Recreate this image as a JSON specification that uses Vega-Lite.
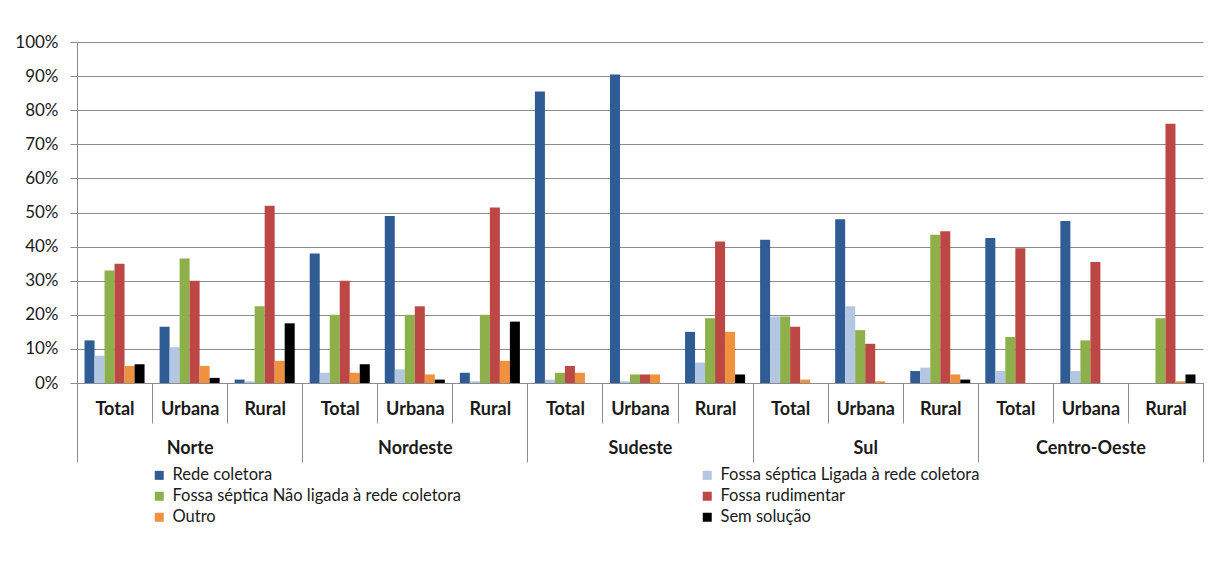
{
  "$schema": "https://vega.github.io/schema/vega-lite/v6.json",
  "autosize": {"type": "none"},
  "width": 1126,
  "height": 341,
  "padding": {"left": 77, "top": 42, "right": 8, "bottom": 189},
  "background": "white",
  "config": {
    "font": "Lato",
    "view": {"stroke": null},
    "axis": {"labelFont": "Lato", "labelColor": "#1a1a1a"}
  },
  "data": {
    "values": [
      {"r": "Norte", "t": "Total", "g": "Norte|Total", "s": "Rede coletora", "v": 12.5},
      {"r": "Norte", "t": "Total", "g": "Norte|Total", "s": "Fossa séptica Ligada à rede coletora", "v": 8},
      {"r": "Norte", "t": "Total", "g": "Norte|Total", "s": "Fossa séptica Não ligada à rede coletora", "v": 33},
      {"r": "Norte", "t": "Total", "g": "Norte|Total", "s": "Fossa rudimentar", "v": 35},
      {"r": "Norte", "t": "Total", "g": "Norte|Total", "s": "Outro", "v": 5},
      {"r": "Norte", "t": "Total", "g": "Norte|Total", "s": "Sem solução", "v": 5.5},
      {"r": "Norte", "t": "Urbana", "g": "Norte|Urbana", "s": "Rede coletora", "v": 16.5},
      {"r": "Norte", "t": "Urbana", "g": "Norte|Urbana", "s": "Fossa séptica Ligada à rede coletora", "v": 10.5},
      {"r": "Norte", "t": "Urbana", "g": "Norte|Urbana", "s": "Fossa séptica Não ligada à rede coletora", "v": 36.5},
      {"r": "Norte", "t": "Urbana", "g": "Norte|Urbana", "s": "Fossa rudimentar", "v": 30},
      {"r": "Norte", "t": "Urbana", "g": "Norte|Urbana", "s": "Outro", "v": 5},
      {"r": "Norte", "t": "Urbana", "g": "Norte|Urbana", "s": "Sem solução", "v": 1.5},
      {"r": "Norte", "t": "Rural", "g": "Norte|Rural", "s": "Rede coletora", "v": 1},
      {"r": "Norte", "t": "Rural", "g": "Norte|Rural", "s": "Fossa séptica Ligada à rede coletora", "v": 0.5},
      {"r": "Norte", "t": "Rural", "g": "Norte|Rural", "s": "Fossa séptica Não ligada à rede coletora", "v": 22.5},
      {"r": "Norte", "t": "Rural", "g": "Norte|Rural", "s": "Fossa rudimentar", "v": 52},
      {"r": "Norte", "t": "Rural", "g": "Norte|Rural", "s": "Outro", "v": 6.5},
      {"r": "Norte", "t": "Rural", "g": "Norte|Rural", "s": "Sem solução", "v": 17.5},
      {"r": "Nordeste", "t": "Total", "g": "Nordeste|Total", "s": "Rede coletora", "v": 38},
      {"r": "Nordeste", "t": "Total", "g": "Nordeste|Total", "s": "Fossa séptica Ligada à rede coletora", "v": 3},
      {"r": "Nordeste", "t": "Total", "g": "Nordeste|Total", "s": "Fossa séptica Não ligada à rede coletora", "v": 20},
      {"r": "Nordeste", "t": "Total", "g": "Nordeste|Total", "s": "Fossa rudimentar", "v": 30},
      {"r": "Nordeste", "t": "Total", "g": "Nordeste|Total", "s": "Outro", "v": 3},
      {"r": "Nordeste", "t": "Total", "g": "Nordeste|Total", "s": "Sem solução", "v": 5.5},
      {"r": "Nordeste", "t": "Urbana", "g": "Nordeste|Urbana", "s": "Rede coletora", "v": 49},
      {"r": "Nordeste", "t": "Urbana", "g": "Nordeste|Urbana", "s": "Fossa séptica Ligada à rede coletora", "v": 4},
      {"r": "Nordeste", "t": "Urbana", "g": "Nordeste|Urbana", "s": "Fossa séptica Não ligada à rede coletora", "v": 20},
      {"r": "Nordeste", "t": "Urbana", "g": "Nordeste|Urbana", "s": "Fossa rudimentar", "v": 22.5},
      {"r": "Nordeste", "t": "Urbana", "g": "Nordeste|Urbana", "s": "Outro", "v": 2.5},
      {"r": "Nordeste", "t": "Urbana", "g": "Nordeste|Urbana", "s": "Sem solução", "v": 1},
      {"r": "Nordeste", "t": "Rural", "g": "Nordeste|Rural", "s": "Rede coletora", "v": 3},
      {"r": "Nordeste", "t": "Rural", "g": "Nordeste|Rural", "s": "Fossa séptica Ligada à rede coletora", "v": 0.5},
      {"r": "Nordeste", "t": "Rural", "g": "Nordeste|Rural", "s": "Fossa séptica Não ligada à rede coletora", "v": 20},
      {"r": "Nordeste", "t": "Rural", "g": "Nordeste|Rural", "s": "Fossa rudimentar", "v": 51.5},
      {"r": "Nordeste", "t": "Rural", "g": "Nordeste|Rural", "s": "Outro", "v": 6.5},
      {"r": "Nordeste", "t": "Rural", "g": "Nordeste|Rural", "s": "Sem solução", "v": 18},
      {"r": "Sudeste", "t": "Total", "g": "Sudeste|Total", "s": "Rede coletora", "v": 85.5},
      {"r": "Sudeste", "t": "Total", "g": "Sudeste|Total", "s": "Fossa séptica Ligada à rede coletora", "v": 1},
      {"r": "Sudeste", "t": "Total", "g": "Sudeste|Total", "s": "Fossa séptica Não ligada à rede coletora", "v": 3},
      {"r": "Sudeste", "t": "Total", "g": "Sudeste|Total", "s": "Fossa rudimentar", "v": 5},
      {"r": "Sudeste", "t": "Total", "g": "Sudeste|Total", "s": "Outro", "v": 3},
      {"r": "Sudeste", "t": "Total", "g": "Sudeste|Total", "s": "Sem solução", "v": 0},
      {"r": "Sudeste", "t": "Urbana", "g": "Sudeste|Urbana", "s": "Rede coletora", "v": 90.5},
      {"r": "Sudeste", "t": "Urbana", "g": "Sudeste|Urbana", "s": "Fossa séptica Ligada à rede coletora", "v": 0.5},
      {"r": "Sudeste", "t": "Urbana", "g": "Sudeste|Urbana", "s": "Fossa séptica Não ligada à rede coletora", "v": 2.5},
      {"r": "Sudeste", "t": "Urbana", "g": "Sudeste|Urbana", "s": "Fossa rudimentar", "v": 2.5},
      {"r": "Sudeste", "t": "Urbana", "g": "Sudeste|Urbana", "s": "Outro", "v": 2.5},
      {"r": "Sudeste", "t": "Urbana", "g": "Sudeste|Urbana", "s": "Sem solução", "v": 0},
      {"r": "Sudeste", "t": "Rural", "g": "Sudeste|Rural", "s": "Rede coletora", "v": 15},
      {"r": "Sudeste", "t": "Rural", "g": "Sudeste|Rural", "s": "Fossa séptica Ligada à rede coletora", "v": 6},
      {"r": "Sudeste", "t": "Rural", "g": "Sudeste|Rural", "s": "Fossa séptica Não ligada à rede coletora", "v": 19},
      {"r": "Sudeste", "t": "Rural", "g": "Sudeste|Rural", "s": "Fossa rudimentar", "v": 41.5},
      {"r": "Sudeste", "t": "Rural", "g": "Sudeste|Rural", "s": "Outro", "v": 15},
      {"r": "Sudeste", "t": "Rural", "g": "Sudeste|Rural", "s": "Sem solução", "v": 2.5},
      {"r": "Sul", "t": "Total", "g": "Sul|Total", "s": "Rede coletora", "v": 42},
      {"r": "Sul", "t": "Total", "g": "Sul|Total", "s": "Fossa séptica Ligada à rede coletora", "v": 19.5},
      {"r": "Sul", "t": "Total", "g": "Sul|Total", "s": "Fossa séptica Não ligada à rede coletora", "v": 19.5},
      {"r": "Sul", "t": "Total", "g": "Sul|Total", "s": "Fossa rudimentar", "v": 16.5},
      {"r": "Sul", "t": "Total", "g": "Sul|Total", "s": "Outro", "v": 1},
      {"r": "Sul", "t": "Total", "g": "Sul|Total", "s": "Sem solução", "v": 0},
      {"r": "Sul", "t": "Urbana", "g": "Sul|Urbana", "s": "Rede coletora", "v": 48},
      {"r": "Sul", "t": "Urbana", "g": "Sul|Urbana", "s": "Fossa séptica Ligada à rede coletora", "v": 22.5},
      {"r": "Sul", "t": "Urbana", "g": "Sul|Urbana", "s": "Fossa séptica Não ligada à rede coletora", "v": 15.5},
      {"r": "Sul", "t": "Urbana", "g": "Sul|Urbana", "s": "Fossa rudimentar", "v": 11.5},
      {"r": "Sul", "t": "Urbana", "g": "Sul|Urbana", "s": "Outro", "v": 0.5},
      {"r": "Sul", "t": "Urbana", "g": "Sul|Urbana", "s": "Sem solução", "v": 0},
      {"r": "Sul", "t": "Rural", "g": "Sul|Rural", "s": "Rede coletora", "v": 3.5},
      {"r": "Sul", "t": "Rural", "g": "Sul|Rural", "s": "Fossa séptica Ligada à rede coletora", "v": 4.5},
      {"r": "Sul", "t": "Rural", "g": "Sul|Rural", "s": "Fossa séptica Não ligada à rede coletora", "v": 43.5},
      {"r": "Sul", "t": "Rural", "g": "Sul|Rural", "s": "Fossa rudimentar", "v": 44.5},
      {"r": "Sul", "t": "Rural", "g": "Sul|Rural", "s": "Outro", "v": 2.5},
      {"r": "Sul", "t": "Rural", "g": "Sul|Rural", "s": "Sem solução", "v": 1},
      {"r": "Centro-Oeste", "t": "Total", "g": "Centro-Oeste|Total", "s": "Rede coletora", "v": 42.5},
      {"r": "Centro-Oeste", "t": "Total", "g": "Centro-Oeste|Total", "s": "Fossa séptica Ligada à rede coletora", "v": 3.5},
      {"r": "Centro-Oeste", "t": "Total", "g": "Centro-Oeste|Total", "s": "Fossa séptica Não ligada à rede coletora", "v": 13.5},
      {"r": "Centro-Oeste", "t": "Total", "g": "Centro-Oeste|Total", "s": "Fossa rudimentar", "v": 39.5},
      {"r": "Centro-Oeste", "t": "Total", "g": "Centro-Oeste|Total", "s": "Outro", "v": 0},
      {"r": "Centro-Oeste", "t": "Total", "g": "Centro-Oeste|Total", "s": "Sem solução", "v": 0},
      {"r": "Centro-Oeste", "t": "Urbana", "g": "Centro-Oeste|Urbana", "s": "Rede coletora", "v": 47.5},
      {"r": "Centro-Oeste", "t": "Urbana", "g": "Centro-Oeste|Urbana", "s": "Fossa séptica Ligada à rede coletora", "v": 3.5},
      {"r": "Centro-Oeste", "t": "Urbana", "g": "Centro-Oeste|Urbana", "s": "Fossa séptica Não ligada à rede coletora", "v": 12.5},
      {"r": "Centro-Oeste", "t": "Urbana", "g": "Centro-Oeste|Urbana", "s": "Fossa rudimentar", "v": 35.5},
      {"r": "Centro-Oeste", "t": "Urbana", "g": "Centro-Oeste|Urbana", "s": "Outro", "v": 0},
      {"r": "Centro-Oeste", "t": "Urbana", "g": "Centro-Oeste|Urbana", "s": "Sem solução", "v": 0},
      {"r": "Centro-Oeste", "t": "Rural", "g": "Centro-Oeste|Rural", "s": "Rede coletora", "v": 0},
      {"r": "Centro-Oeste", "t": "Rural", "g": "Centro-Oeste|Rural", "s": "Fossa séptica Ligada à rede coletora", "v": 0},
      {"r": "Centro-Oeste", "t": "Rural", "g": "Centro-Oeste|Rural", "s": "Fossa séptica Não ligada à rede coletora", "v": 19},
      {"r": "Centro-Oeste", "t": "Rural", "g": "Centro-Oeste|Rural", "s": "Fossa rudimentar", "v": 76},
      {"r": "Centro-Oeste", "t": "Rural", "g": "Centro-Oeste|Rural", "s": "Outro", "v": 0.5},
      {"r": "Centro-Oeste", "t": "Rural", "g": "Centro-Oeste|Rural", "s": "Sem solução", "v": 2.5}
    ]
  },
  "layer": [
    {
      "mark": {"type": "bar", "opacity": 0},
      "encoding": {
        "x": {
          "field": "r", "type": "nominal", "sort": null,
          "scale": {"paddingInner": 0, "paddingOuter": 0},
          "axis": {
            "orient": "bottom", "title": null, "domain": false, "grid": false,
            "tickBand": "extent", "tickSize": 79, "tickColor": "#8c8c8c",
            "labelAngle": 0, "labelBaseline": "middle", "labelPadding": -14,
            "labelFontSize": 18, "labelFontWeight": "bold"
          }
        }
      }
    },
    {
      "mark": {"type": "bar"},
      "encoding": {
        "x": {
          "field": "g", "type": "nominal", "sort": null,
          "scale": {"paddingInner": 0, "paddingOuter": 0},
          "axis": {
            "orient": "bottom", "title": null, "grid": false,
            "domainColor": "#8c8c8c",
            "tickBand": "extent", "tickSize": 40, "tickColor": "#8c8c8c",
            "labelAngle": 0, "labelBaseline": "middle", "labelPadding": -14,
            "labelFontSize": 18, "labelFontWeight": "bold",
            "labelExpr": "split(datum.label, '|')[1]"
          }
        },
        "xOffset": {
          "field": "s", "type": "nominal", "sort": null,
          "scale": {"paddingInner": 0, "paddingOuter": 0.75}
        },
        "y": {
          "field": "v", "type": "quantitative",
          "scale": {"domain": [0, 100], "nice": false},
          "axis": {
            "title": null, "values": [0,10,20,30,40,50,60,70,80,90,100],
            "labelOverlap": false,
            "labelExpr": "datum.value + '%'",
            "labelFontSize": 17, "labelPadding": 12,
            "domainColor": "#8c8c8c", "tickColor": "#8c8c8c", "tickSize": 7,
            "gridColor": "#8c8c8c", "gridWidth": 1
          }
        },
        "color": {
          "field": "s", "type": "nominal", "sort": null,
          "scale": {
            "domain": ["Rede coletora", "Fossa séptica Ligada à rede coletora", "Fossa séptica Não ligada à rede coletora", "Fossa rudimentar", "Outro", "Sem solução"],
            "range": ["#2F5C94", "#B3C7E2", "#8DB04B", "#BC4744", "#F0913E", "#000000"]
          },
          "legend": {
            "title": null, "orient": "none", "legendX": 74, "legendY": 425,
            "direction": "horizontal", "columns": 2, "columnPadding": 238,
            "symbolType": "square", "symbolSize": 81, "symbolStrokeWidth": 0,
            "labelFontSize": 16.5, "labelColor": "#1a1a1a", "labelLimit": 0,
            "rowPadding": 4, "labelOffset": 5
          }
        }
      }
    }
  ],
  "resolve": {"scale": {"x": "independent"}, "axis": {"x": "independent"}}
}
